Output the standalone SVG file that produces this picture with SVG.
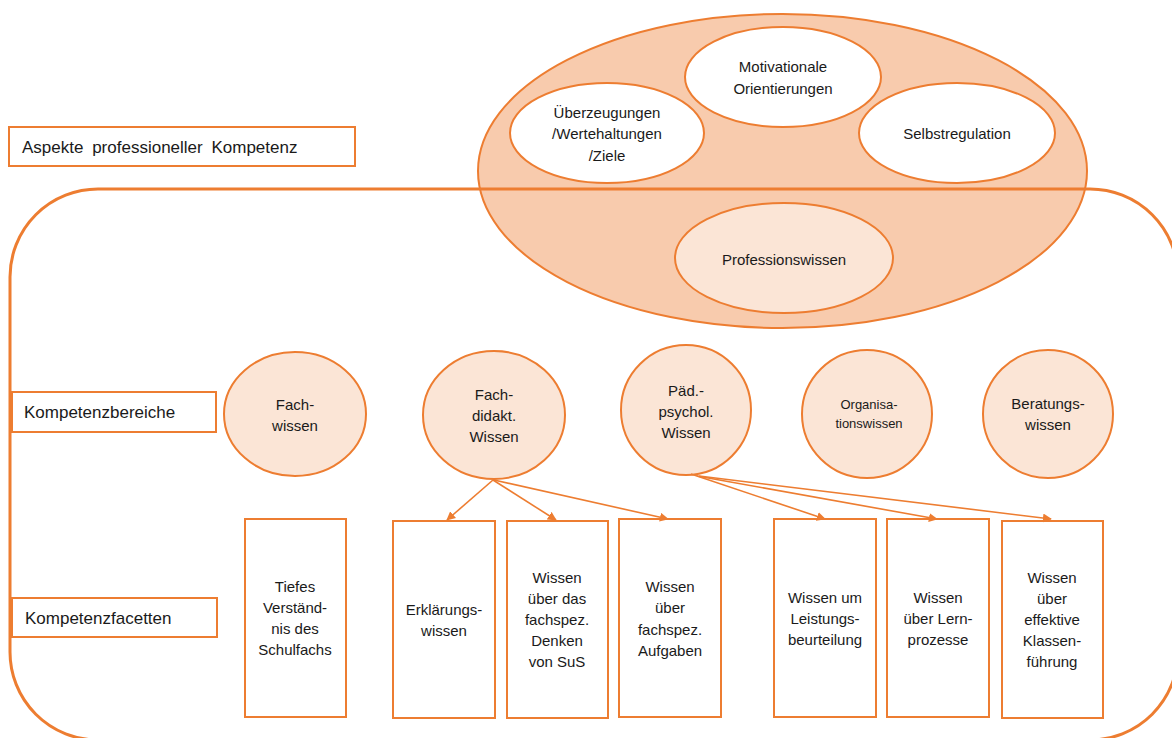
<svg xmlns="http://www.w3.org/2000/svg" width="1172" height="738" viewBox="0 0 1172 738">
<defs>
<style>
text{font-family:"Liberation Sans",Arial,sans-serif;font-size:15px;fill:#1a1a1a;text-anchor:middle}
.lbl{font-size:17px;text-anchor:start}
.sm{font-size:13px}
.o{stroke:#ED7D31;stroke-width:2}
.big{fill:#F8CBAD}
.wh{fill:#ffffff}
.lt{fill:#FBE5D6}
.box{fill:#ffffff;stroke:#ED7D31;stroke-width:2}
.conn line{stroke:#ED7D31;stroke-width:1.6;marker-end:url(#ah)}
</style>
<marker id="ah" viewBox="0 0 10 10" refX="9" refY="5" markerWidth="9" markerHeight="9" orient="auto" markerUnits="userSpaceOnUse">
<path d="M0,0 L10,5 L0,10 z" fill="#ED7D31"/>
</marker>
</defs>
<rect width="1172" height="738" fill="#ffffff"/>

<g id="aspekte-ellipse">
<ellipse class="o big" cx="782.5" cy="171" rx="304.5" ry="157"/>
</g>

<g id="frame">
<rect x="10" y="189" width="1168" height="551" rx="88" ry="88" fill="none" stroke="#ED7D31" stroke-width="3"/>
</g>

<g id="label-aspekte">
<rect class="box" x="9" y="127" width="346" height="39"/>
<text class="lbl" x="22" y="153" word-spacing="4">Aspekte professioneller Kompetenz</text>
</g>

<g id="ueberzeugungen">
<ellipse class="o wh" cx="607" cy="133" rx="97" ry="50"/>
<text x="607" y="118">Überzeugungen</text>
<text x="607" y="139">/Wertehaltungen</text>
<text x="607" y="161">/Ziele</text>
</g>

<g id="motivationale">
<ellipse class="o wh" cx="783" cy="77" rx="98" ry="50"/>
<text x="783" y="72">Motivationale</text>
<text x="783" y="94">Orientierungen</text>
</g>

<g id="selbstregulation">
<ellipse class="o wh" cx="957" cy="133" rx="98" ry="50"/>
<text x="957" y="139">Selbstregulation</text>
</g>

<g id="professionswissen">
<ellipse class="o lt" cx="784" cy="258" rx="109" ry="55"/>
<text x="784" y="265">Professionswissen</text>
</g>

<g id="label-bereiche">
<rect class="box" x="12" y="392" width="204" height="40"/>
<text class="lbl" x="24" y="418">Kompetenzbereiche</text>
</g>

<g id="label-facetten">
<rect class="box" x="12" y="598" width="205" height="39"/>
<text class="lbl" x="25" y="624">Kompetenzfacetten</text>
</g>

<g id="fachwissen">
<ellipse class="o lt" cx="295" cy="414" rx="71" ry="62"/>
<text x="295" y="410">Fach-</text>
<text x="295" y="431">wissen</text>
</g>

<g id="fachdidakt">
<ellipse class="o lt" cx="494" cy="415" rx="71" ry="64"/>
<text x="494" y="400">Fach-</text>
<text x="494" y="421">didakt.</text>
<text x="494" y="442">Wissen</text>
</g>

<g id="paedpsych">
<ellipse class="o lt" cx="686" cy="410" rx="65" ry="65"/>
<text x="686" y="396">Päd.-</text>
<text x="686" y="417">psychol.</text>
<text x="686" y="438">Wissen</text>
</g>

<g id="organisation">
<ellipse class="o lt" cx="867" cy="414" rx="65" ry="64"/>
<text class="sm" x="869" y="409">Organisa-</text>
<text class="sm" x="869" y="428">tionswissen</text>
</g>

<g id="beratung">
<ellipse class="o lt" cx="1048" cy="414" rx="65" ry="64"/>
<text x="1048" y="409">Beratungs-</text>
<text x="1048" y="430">wissen</text>
</g>

<g id="tiefes">
<rect class="box" x="245" y="519" width="101" height="198"/>
<text x="295" y="592">Tiefes</text>
<text x="295" y="613">Verständ-</text>
<text x="295" y="634">nis des</text>
<text x="295" y="655">Schulfachs</text>
</g>

<g id="erklaerung">
<rect class="box" x="393" y="521" width="102" height="197"/>
<text x="444" y="615">Erklärungs-</text>
<text x="444" y="636">wissen</text>
</g>

<g id="denken">
<rect class="box" x="507" y="521" width="101" height="197"/>
<text x="557" y="583">Wissen</text>
<text x="557" y="604">über das</text>
<text x="557" y="625">fachspez.</text>
<text x="557" y="646">Denken</text>
<text x="557" y="667">von SuS</text>
</g>

<g id="aufgaben">
<rect class="box" x="619" y="519" width="102" height="198"/>
<text x="670" y="592">Wissen</text>
<text x="670" y="613">über</text>
<text x="670" y="635">fachspez.</text>
<text x="670" y="656">Aufgaben</text>
</g>

<g id="leistung">
<rect class="box" x="774" y="519" width="102" height="198"/>
<text x="825" y="603">Wissen um</text>
<text x="825" y="624">Leistungs-</text>
<text x="825" y="645">beurteilung</text>
</g>

<g id="lernprozesse">
<rect class="box" x="887" y="519" width="102" height="198"/>
<text x="938" y="603">Wissen</text>
<text x="938" y="624">über Lern-</text>
<text x="938" y="645">prozesse</text>
</g>

<g id="klassenfuehrung">
<rect class="box" x="1002" y="521" width="101" height="197"/>
<text x="1052" y="583">Wissen</text>
<text x="1052" y="604">über</text>
<text x="1052" y="625">effektive</text>
<text x="1052" y="646">Klassen-</text>
<text x="1052" y="667">führung</text>
</g>

<g id="connectors" class="conn">
<line x1="493" y1="480" x2="447" y2="520"/>
<line x1="493" y1="480" x2="556" y2="520"/>
<line x1="494" y1="480" x2="668" y2="519"/>
<line x1="691" y1="474" x2="825" y2="519"/>
<line x1="697" y1="476" x2="937" y2="519"/>
<line x1="699" y1="476" x2="1051" y2="519"/>
</g>
</svg>
